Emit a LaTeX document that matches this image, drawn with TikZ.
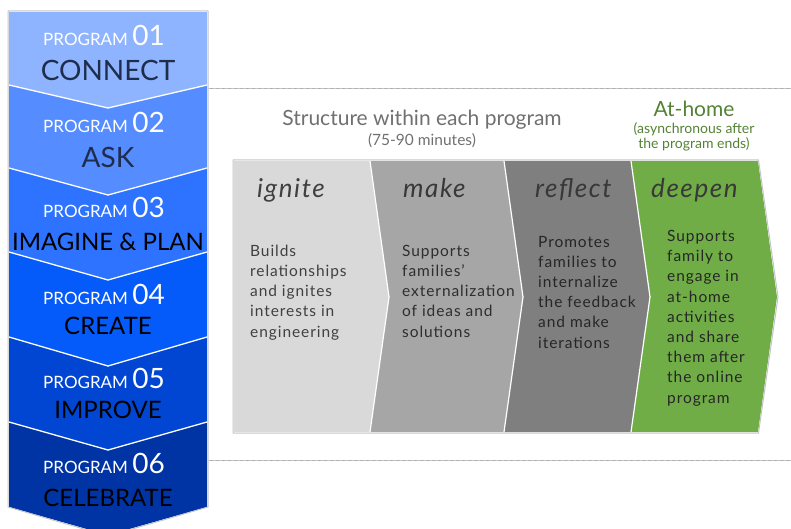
\documentclass[tikz,border=0pt]{standalone}
\usepackage{fontspec}
\setmainfont{Lato}
\newfontfamily\panelfont[LetterSpace=6]{Lato}
\usepackage{tikz}
\usepackage{tkz-euclide}
\usetikzlibrary{calc}
\usetikzlibrary{positioning}
\usetikzlibrary{arrows.meta}

\definecolor{blueA}{HTML}{8FB4FF}
\definecolor{blueB}{HTML}{558CFF}
\definecolor{blueC}{HTML}{2D73FF}
\definecolor{blueD}{HTML}{055AFA}
\definecolor{blueE}{HTML}{0046D2}
\definecolor{blueF}{HTML}{0034A5}
\definecolor{navy}{HTML}{1F2D4D}
\definecolor{edgegray}{HTML}{C4C4C4}
\definecolor{dotgray}{HTML}{A6A6A6}
\definecolor{headgray}{HTML}{707070}
\definecolor{homegreen}{HTML}{548235}
\definecolor{igniteC}{HTML}{D9D9D9}
\definecolor{makeC}{HTML}{A6A6A6}
\definecolor{reflectC}{HTML}{7F7F7F}
\definecolor{deepenC}{HTML}{70AD47}

\newcommand{\prognum}[1]{{\fontsize{28}{28}\selectfont #1}}

\begin{document}
\begin{tikzpicture}[%
  x=1pt, y=-1pt,
  progline/.style={anchor=base, inner sep=0pt, text=white,
    font=\fontsize{17}{17}\selectfont},
  bigname/.style={anchor=base, inner sep=0pt,
    font=\fontsize{28}{28}\selectfont},
  smallname/.style={anchor=base, inner sep=0pt, text=black,
    font=\fontsize{24}{24}\selectfont},
  heading/.style={anchor=base, inner sep=0pt, text=headgray,
    font=\fontsize{21}{21}\selectfont},
  subheading/.style={anchor=base, inner sep=0pt, text=headgray,
    font=\fontsize{15.5}{16}\selectfont},
  phase/.style={anchor=base west, inner sep=0pt,
    font=\panelfont\itshape\fontsize{26}{26}\selectfont},
  phasetext/.style={anchor=base west, inner sep=0pt, align=left,
    font=\panelfont\fontsize{15.5}{20.2}\selectfont},
]

  \useasboundingbox (0,0) rectangle (791,529);

  \tkzDefPoint(9,12){c0l}
  \tkzDefPoint(207,12){c0r}
  \tkzDefPoint(9,85){c1l}
  \tkzDefPoint(108,108){c1m}
  \tkzDefPoint(207,85){c1r}
  \tkzDefPoint(9,168){c2l}
  \tkzDefPoint(108,195){c2m}
  \tkzDefPoint(207,168){c2r}
  \tkzDefPoint(9,252){c3l}
  \tkzDefPoint(108,280){c3m}
  \tkzDefPoint(207,252){c3r}
  \tkzDefPoint(9,337){c4l}
  \tkzDefPoint(108,366){c4m}
  \tkzDefPoint(207,337){c4r}
  \tkzDefPoint(9,422){c5l}
  \tkzDefPoint(108,450){c5m}
  \tkzDefPoint(207,422){c5r}
  \tkzDefPoint(9,507){c6l}
  \tkzDefPoint(108,535){c6m}
  \tkzDefPoint(207,507){c6r}

  \tkzDefPoint(8,11){k0}
  \tkzDefPoint(208,11){k1}
  \tkzDefPoint(208,507){k2}
  \tkzDefPoint(108,536){k3}
  \tkzDefPoint(8,507){k4}

  \tkzFillPolygon[color=blueA](c0l,c0r,c1r,c1m,c1l)
  \tkzFillPolygon[color=blueB](c1l,c1m,c1r,c2r,c2m,c2l)
  \tkzFillPolygon[color=blueC](c2l,c2m,c2r,c3r,c3m,c3l)
  \tkzFillPolygon[color=blueD](c3l,c3m,c3r,c4r,c4m,c4l)
  \tkzFillPolygon[color=blueE](c4l,c4m,c4r,c5r,c5m,c5l)
  \tkzFillPolygon[color=blueF](c5l,c5m,c5r,c6r,c6m,c6l)

  \tkzDrawSegments[color=white, line width=1.3pt](c1l,c1m c1m,c1r c2l,c2m c2m,c2r
    c3l,c3m c3m,c3r c4l,c4m c4m,c4r c5l,c5m c5m,c5r)
  \tkzDrawPolygon[color=edgegray, line width=1pt](k0,k1,k2,k3,k4)

  \tkzDefPoint(209,88){d0}
  \tkzDefPoint(791,88){d1}
  \tkzDefPoint(209,460){d2}
  \tkzDefPoint(791,460){d3}

  \tkzDrawSegments[color=dotgray, densely dotted, line width=0.8pt](d0,d1 d2,d3)

  \tkzDefPoint(234,161){p0t}
  \tkzDefPoint(234,432){p0b}
  \tkzDefPoint(370,161){p1t}
  \tkzDefPoint(389,297){p1m}
  \tkzDefPoint(370,432){p1b}
  \tkzDefPoint(504,161){p2t}
  \tkzDefPoint(523,297){p2m}
  \tkzDefPoint(504,432){p2b}
  \tkzDefPoint(631,161){p3t}
  \tkzDefPoint(650,297){p3m}
  \tkzDefPoint(631,432){p3b}
  \tkzDefPoint(758,161){p4t}
  \tkzDefPoint(777,297){p4m}
  \tkzDefPoint(758,432){p4b}

  \tkzDefPoint(233,160){q0}
  \tkzDefPoint(758.5,160){q1}
  \tkzDefPoint(778,297){q2}
  \tkzDefPoint(758.5,433){q3}
  \tkzDefPoint(233,433){q4}

  \tkzFillPolygon[color=igniteC](p0t,p1t,p1m,p1b,p0b)
  \tkzFillPolygon[color=makeC](p1t,p2t,p2m,p2b,p1b,p1m)
  \tkzFillPolygon[color=reflectC](p2t,p3t,p3m,p3b,p2b,p2m)
  \tkzFillPolygon[color=deepenC](p3t,p4t,p4m,p4b,p3b,p3m)

  \tkzDrawSegments[color=white, line width=1.2pt](p1t,p1m p1m,p1b p2t,p2m p2m,p2b
    p3t,p3m p3m,p3b)
  \tkzDrawPolygon[color=edgegray, line width=1pt](q0,q1,q2,q3,q4)

  \node[progline] (prog1) at (104,46) {PROGRAM \prognum{01}};
  \node[bigname, text=navy] (connect) at (108,81) {CONNECT};
  \node[progline] (prog2) at (104,133) {PROGRAM \prognum{02}};
  \node[bigname, text=navy] (ask) at (108,168) {ASK};
  \node[progline] (prog3) at (104,217) {PROGRAM \prognum{03}};
  \node[smallname] (imagine) at (108,250) {IMAGINE \& PLAN};
  \node[progline] (prog4) at (104,304) {PROGRAM \prognum{04}};
  \node[smallname] (create) at (108,334) {CREATE};
  \node[progline] (prog5) at (104,388) {PROGRAM \prognum{05}};
  \node[smallname] (improve) at (108,418) {IMPROVE};
  \node[progline] (prog6) at (104,473) {PROGRAM \prognum{06}};
  \node[smallname] (celebrate) at (108,506) {CELEBRATE};

  \node[heading] (structure) at (422,126) {Structure within each program};
  \node[subheading] (minutes) at (422,146) {(75-90 minutes)};
  \node[heading, text=homegreen] (athome) at (694,117) {At-home};
  \node[subheading, text=homegreen, align=center,
    font=\fontsize{14}{15.5}\selectfont] (async) at (694,149)
    {(asynchronous after\\the program ends)};

  \node[phase, text=black!75] (ignite) at (257,198) {ignite};
  \node[phase, text=black!78] (make) at (403,198) {make};
  \node[phase, text=black!78] (reflect) at (535,198) {reflect};
  \node[phase, text=black!78] (deepen) at (651,198) {deepen};

  \node[phasetext, text=black!75] (ignitetxt) at (250,337)
    {Builds\\relationships\\and ignites\\interests in\\engineering};
  \node[phasetext, text=black!82] (maketxt) at (402,337)
    {Supports\\families’\\externalization\\of ideas and\\solutions};
  \node[phasetext, text=black!85] (reflecttxt) at (538,348)
    {Promotes\\families to\\internalize\\the feedback\\and make\\iterations};
  \node[phasetext, text=black!85] (deepentxt) at (667,403)
    {Supports\\family to\\engage in\\at-home\\activities\\and share\\them after\\the online\\program};

\end{tikzpicture}
\end{document}
